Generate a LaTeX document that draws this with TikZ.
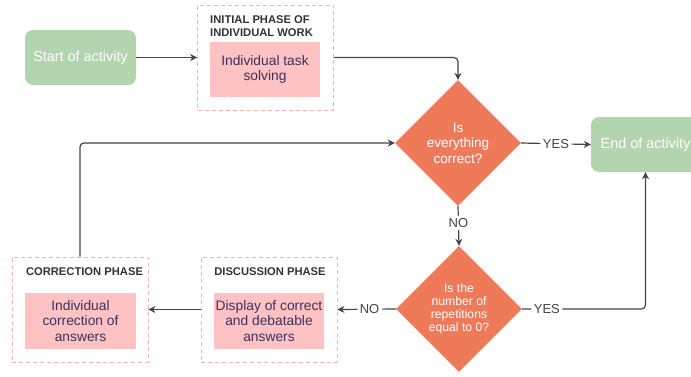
\documentclass[tikz,border=0pt]{standalone}
\usepackage{fontspec}
\setmainfont{Liberation Sans}
\usetikzlibrary{shapes.geometric,arrows.meta,calc}
\definecolor{termgreen}{HTML}{B2D4AE}
\definecolor{taskpink}{HTML}{FFC2C2}
\definecolor{tasktext}{HTML}{3A3160}
\definecolor{phaseborder}{HTML}{F5B0B0}
\definecolor{titlegray}{HTML}{333333}
\definecolor{decorange}{HTML}{EE7A5A}
\definecolor{linegray}{HTML}{444444}
\tikzset{
 termbox/.style={rectangle, rounded corners=8pt, fill=termgreen, text=white, minimum width=111pt, minimum height=55pt, inner sep=0pt, align=center, font=\fontsize{14.4}{16}\selectfont},
 taskbox/.style={rectangle, fill=taskpink, text=tasktext, minimum width=111pt, minimum height=56pt, inner sep=0pt, align=center, font=\fontsize{13.8}{15.5}\selectfont},
 phase/.style={rectangle, draw=phaseborder, dash pattern=on 4pt off 3pt, line width=0.9pt, minimum width=136pt, minimum height=105pt, inner sep=0pt},
 phasetitle/.style={font=\bfseries\fontsize{11.2}{13}\selectfont, text=titlegray, inner sep=0pt, align=left},
 decision/.style={diamond, fill=decorange, text=white, minimum width=126pt, minimum height=126pt, inner sep=0pt, aspect=1, align=center},
 flow/.style={draw=linegray, line width=1.2pt, -{Stealth[length=7pt,width=7pt]}, rounded corners=4pt},
 lbl/.style={fill=white, text=linegray, font=\fontsize{13}{14}\selectfont, inner sep=2.5pt}
}
\begin{document}
\begin{tikzpicture}[x=1pt,y=-1pt]
\useasboundingbox (0,0) rectangle (691,376);
% nodes
\node[termbox] (start) at (80.5,57.5) {Start of activity};
\node[phase] (initphase) at (265.5,57.5) {};
\node[phasetitle, anchor=west] (inittitle) at (210,26.5) {INITIAL PHASE OF\\INDIVIDUAL WORK};
\node[taskbox, minimum width=110pt, minimum height=55pt] (inittask) at (265,69.5) {Individual task\\solving};
\node[decision, font=\fontsize{13.5}{15.5}\selectfont] (d1) at (458,143) {Is\\everything\\correct?};
\node[termbox, minimum width=109pt] (endact) at (645.5,144.5) {End of activity};
\node[decision, font=\fontsize{12.2}{13.2}\selectfont] (d2) at (459,309) {Is the\\number of\\repetitions\\equal to 0?};
\node[phase] (discphase) at (269,309.5) {};
\node[phasetitle] (disctitle) at (270,272) {DISCUSSION PHASE};
\node[taskbox, minimum width=110pt] (disctask) at (269,321) {Display of correct\\and debatable\\answers};
\node[phase] (corrphase) at (80,309.5) {};
\node[phasetitle] (corrtitle) at (84.5,272) {CORRECTION PHASE};
\node[taskbox] (corrtask) at (80.5,321) {Individual\\correction of\\answers};
% connectors
\draw[flow] (start) -- (initphase);
\draw[flow] (initphase.east |- start.east) -| (d1.north);
\draw[flow] (d1.east) -- node[lbl]{YES} (endact.west);
\draw[flow] (d1.south) -- node[lbl, pos=0.42]{NO} (d2.north);
\draw[flow] (d2.east) -| node[lbl, pos=0.1]{YES} (endact.south);
\draw[flow] (d2.west) -- node[lbl, pos=0.45]{NO} (discphase.east);
\draw[flow] (discphase.west) -- (corrphase.east);
\draw[flow] (corrphase.north) |- (d1.west);
\end{tikzpicture}
\end{document}
